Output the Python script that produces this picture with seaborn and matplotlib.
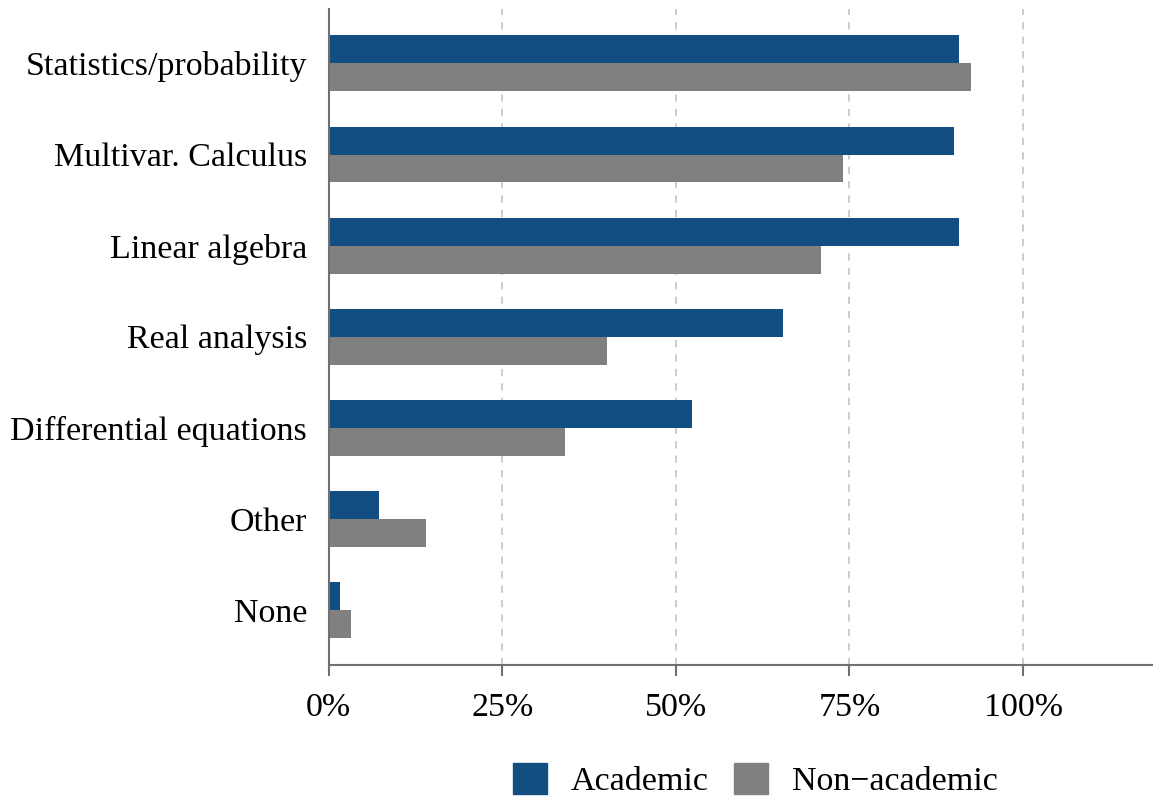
import pandas as pd
import seaborn as sns
import matplotlib.pyplot as plt
from matplotlib.ticker import PercentFormatter

# Data
subjects = [
    "Statistics/probability",
    "Multivar. Calculus",
    "Linear algebra",
    "Real analysis",
    "Differential equations",
    "Other",
    "None",
]

academic = [90.7, 90.0, 90.7, 65.4, 52.3, 7.3, 1.6]

non_academic = [92.5, 74.1, 70.9, 40.1, 34.0, 14.0, 3.2]

groups = ["Academic", "Non\u2212academic"]

colors = ["#134e82", "#808080"]

df = pd.DataFrame({
    "subject": subjects * 2,
    "share": academic + non_academic,
    "group": [groups[0]] * len(subjects) + [groups[1]] * len(subjects),
})

# Style
sns.set_style("white")
plt.rcParams["font.family"] = ["Liberation Serif", "DejaVu Serif"]

fig = plt.figure(figsize=(11.53, 7.96), dpi=100)
ax = fig.add_axes([0.285, 0.165, 0.715, 0.824])

sns.barplot(
    data=df,
    y="subject",
    x="share",
    hue="group",
    order=subjects,
    hue_order=groups,
    palette=colors,
    orient="h",
    width=0.614,
    saturation=1,
    linewidth=0,
    legend=False,
    ax=ax,
)

ax.set_xlim(0, 118.7)
ax.set_ylim(6.6, -0.6)
ax.set_xticks([0, 25, 50, 75, 100])
ax.xaxis.set_major_formatter(PercentFormatter(decimals=0))

for x in [25, 50, 75, 100]:
    ax.axvline(x, color="#c8c8c8", linestyle=(0, (4, 4)), linewidth=1.3, zorder=0)

ax.set_xlabel("")
ax.set_ylabel("")

for side in ["top", "right"]:
    ax.spines[side].set_visible(False)
for side in ["left", "bottom"]:
    ax.spines[side].set_color("#707070")
    ax.spines[side].set_linewidth(1.5)

ax.tick_params(axis="x", which="major", bottom=True, length=8, width=1.5,
               color="#707070", labelsize=24.5, pad=12, labelcolor="black")
ax.tick_params(axis="y", left=False, labelsize=24.5, pad=12, labelcolor="black")

handles = [plt.Rectangle((0, 0), 1, 1, color=c) for c in colors]
fig.legend(
    handles,
    groups,
    loc="lower center",
    bbox_to_anchor=(0.655, -0.04),
    ncol=2,
    frameon=False,
    fontsize=24.5,
    labelcolor="black",
    handlelength=1.0,
    handleheight=1.0,
    handletextpad=0.7,
    columnspacing=0.75,
)

fig.savefig("out.png", dpi=100)
plt.close(fig)
